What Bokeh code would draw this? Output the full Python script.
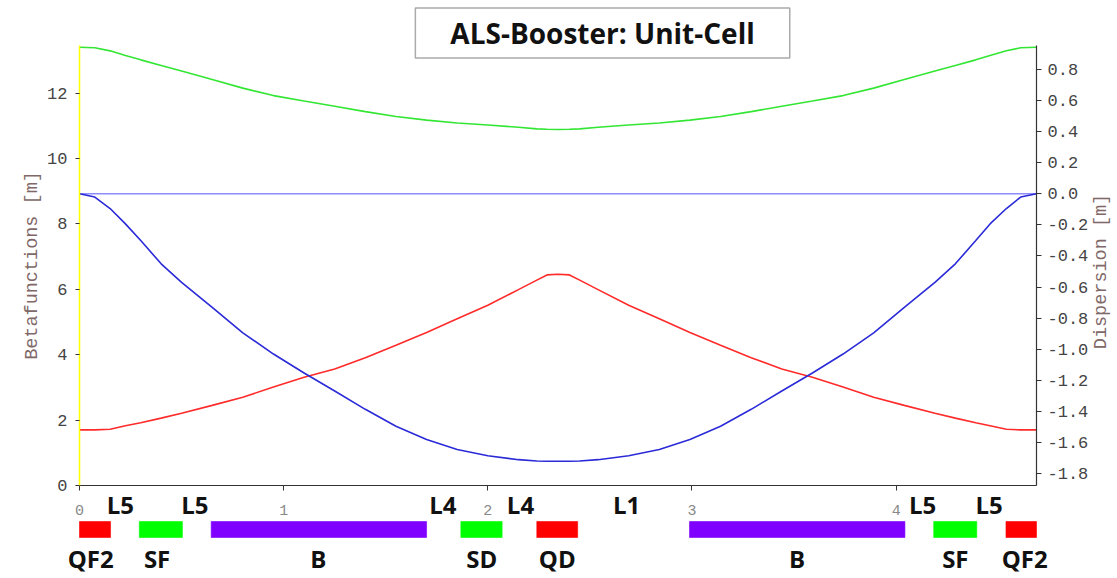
import math
from bokeh.plotting import figure
from bokeh.models import (Range1d, LinearAxis, FixedTicker, PrintfTickFormatter, Label)
from bokeh.core.properties import value
from bokeh.embed import file_html
from bokeh.resources import INLINE

# ---------------- data ----------------
cell_length = 4.6875
s = [0.0, 0.075, 0.15, 0.225, 0.30, 0.40, 0.50, 0.65, 0.80, 0.95, 1.10, 1.25, 1.40,
     1.55, 1.70, 1.85, 2.00, 2.15, 2.24, 2.29, 2.344, 2.40,
     2.45, 2.54, 2.69, 2.84, 2.99, 3.14, 3.29, 3.44, 3.59, 3.74, 3.89, 4.04, 4.19,
     4.29, 4.39, 4.46, 4.54, 4.61, 4.6875]
beta_x = [8.92, 8.82, 8.47, 8.00, 7.49, 6.78, 6.21, 5.45, 4.67, 4.02, 3.44, 2.89, 2.33,
          1.81, 1.41, 1.10, 0.91, 0.79, 0.75, 0.74, 0.74, 0.74,
          0.75, 0.79, 0.91, 1.10, 1.41, 1.81, 2.33, 2.89, 3.44, 4.02, 4.67, 5.45, 6.21,
          6.78, 7.49, 8.00, 8.47, 8.82, 8.92]
beta_y = [1.70, 1.70, 1.72, 1.83, 1.92, 2.06, 2.21, 2.45, 2.70, 3.01, 3.31, 3.56, 3.91,
          4.29, 4.68, 5.10, 5.51, 5.99, 6.28, 6.44, 6.46, 6.44,
          6.28, 5.99, 5.51, 5.10, 4.68, 4.29, 3.91, 3.56, 3.31, 3.01, 2.70, 2.45, 2.21,
          2.06, 1.92, 1.83, 1.72, 1.70, 1.70]
dispersion = [0.943, 0.940, 0.920, 0.890, 0.862, 0.826, 0.790, 0.735, 0.680, 0.632, 0.597,
              0.563, 0.529, 0.497, 0.474, 0.456, 0.443, 0.428, 0.418, 0.415, 0.414, 0.415,
              0.418, 0.428, 0.443, 0.456, 0.474, 0.497, 0.529, 0.563, 0.597, 0.632, 0.680,
              0.735, 0.790, 0.826, 0.862, 0.890, 0.920, 0.940, 0.943]

elem_names = ["QF2", "SF", "B", "SD", "QD", "B", "SF", "QF2"]
elem_start = [0.0, 0.293, 0.645, 1.868, 2.24, 2.988, 4.184, 4.538]
elem_end = [0.152, 0.504, 1.70, 2.07, 2.44, 4.043, 4.395, 4.6875]
elem_kind = ["quad", "sext", "bend", "sext", "quad", "bend", "sext", "quad"]
elem_label_pos = [0.055, 0.38, 1.17, 1.97, 2.34, 3.515, 4.29, 4.63]

drift_names = ["L5", "L5", "L4", "L4", "L1", "L5", "L5"]
drift_pos = [0.20, 0.565, 1.78, 2.16, 2.68, 4.13, 4.455]

beta_ticks = [0, 2, 4, 6, 8, 10, 12]
disp_ticks = [0.8, 0.6, 0.4, 0.2, 0.0, -0.2, -0.4, -0.6, -0.8, -1.0, -1.2, -1.4, -1.6, -1.8]
s_ticks = [0, 1, 2, 3, 4]

title_text = "ALS-Booster: Unit-Cell"
beta_label = "Betafunctions [m]"
disp_label = "Dispersion [m]"

# ---------------- style ----------------
kind_color = {"quad": "#ff0000", "sext": "#00ff00", "bend": "#7f00ff"}
MONO = "Liberation Mono"
SANS = "Open Sans"
W, H = 1117, 578
PX_PER_M = 957 / cell_length          # plot area from x=79 to x=1036

p = figure(width=W, height=H, output_backend="svg", toolbar_location=None,
           x_range=Range1d(-79 / PX_PER_M, cell_length + 81 / PX_PER_M),
           y_range=Range1d(-2.844, 14.832),
           min_border_left=0, min_border_right=0, min_border_top=0, min_border_bottom=0)
p.outline_line_color = None
p.xgrid.visible = False
p.ygrid.visible = False
p.background_fill_color = "white"
p.border_fill_color = "white"

# dispersion axis range and a pixel-like range for the lattice strip / title
p.extra_y_ranges = {"disp": Range1d(-2.476, 1.244), "strip": Range1d(H, 0)}

# left axis (beta) at s = 0
ya = p.yaxis[0]
ya.fixed_location = 0
ya.ticker = FixedTicker(ticks=beta_ticks)
ya.bounds = (0, 13.45)
ya.axis_label = beta_label
ya.axis_label_text_font = MONO
ya.axis_label_text_font_style = "normal"
ya.axis_label_text_font_size = "18.5px"
ya.axis_label_text_color = "#806868"
ya.axis_label_standoff = 1
ya.major_label_text_font = MONO
ya.major_label_text_font_size = "17px"
ya.major_label_text_color = "#444444"
ya.major_label_standoff = 8
ya.axis_line_color = "#ffff00"
ya.axis_line_width = 1.5
ya.major_tick_line_color = "#333333"
ya.major_tick_in = 0
ya.major_tick_out = 4
ya.minor_tick_line_color = None

# right axis (dispersion) at s = cell length
ra = LinearAxis(y_range_name="disp", ticker=FixedTicker(ticks=disp_ticks),
                formatter=PrintfTickFormatter(format="%.1f"), bounds=(-1.877, 0.954),
                fixed_location=cell_length)
ra.major_label_text_font = MONO
ra.major_label_text_font_size = "17px"
ra.major_label_text_color = "#444444"
ra.major_label_standoff = 6
ra.axis_line_color = "#333333"
ra.axis_line_width = 1.2
ra.major_tick_line_color = "#333333"
ra.major_tick_in = 0
ra.major_tick_out = 5
ra.minor_tick_line_color = None
p.add_layout(ra, "right")

# label of the dispersion axis (reads bottom to top, like the reference)
p.text(x=[cell_length + 65 / PX_PER_M], y=[271], text=[disp_label], y_range_name="strip",
       angle=math.pi / 2, text_align="center", text_baseline="middle",
       text_font=value(MONO), text_font_size="18.5px", text_color="#806868")

# bottom axis (s), drawn at beta = 0
xa = p.xaxis[0]
xa.fixed_location = 0
xa.bounds = (0, cell_length)
xa.ticker = FixedTicker(ticks=s_ticks)
xa.major_label_text_font = MONO
xa.major_label_text_font_size = "15px"
xa.major_label_text_color = "#888888"
xa.major_label_standoff = 14
xa.axis_line_color = "#333333"
xa.axis_line_width = 1.2
xa.major_tick_line_color = "#333333"
xa.major_tick_in = 0
xa.major_tick_out = 5
xa.minor_tick_line_color = None

# zero line of dispersion across the cell
p.segment(x0=[s[0]], x1=[s[-1]], y0=[0], y1=[0], y_range_name="disp",
          line_color="#8c8cff", line_width=1.5)

# curves
p.line(s, dispersion, y_range_name="disp", line_color="#33e633", line_width=1.6)
p.line(s, beta_y, line_color="#ff2a2a", line_width=1.6)
p.line(s, beta_x, line_color="#2a2ad8", line_width=1.6)

# lattice strip below the axis
colors = [kind_color[k] for k in elem_kind]
p.quad(left=elem_start, right=elem_end, top=521, bottom=537, y_range_name="strip",
       fill_color=colors, line_color=colors, line_alpha=0.6)
p.text(x=elem_label_pos, y=[558] * len(elem_label_pos), text=elem_names, y_range_name="strip",
       text_align="center", text_baseline="middle", text_font=value(SANS),
       text_font_style="bold", text_font_size="24px", text_color="#111111")
p.text(x=drift_pos, y=[504] * len(drift_pos), text=drift_names, y_range_name="strip",
       text_align="center", text_baseline="middle", text_font=value(SANS),
       text_font_style="bold", text_font_size="24px", text_color="#111111")

# title box
p.add_layout(Label(x=2.562, y=32.5, y_range_name="strip", text=title_text,
                   text_align="center", text_baseline="middle",
                   text_font=SANS, text_font_style="bold", text_font_size="28px",
                   text_color="#111111",
                   background_fill_color="white", border_line_color="#aaaaaa",
                   border_line_width=1.5, padding=dict(x=35, y=6)))

open("out.html", "w").write(file_html(p, INLINE))
